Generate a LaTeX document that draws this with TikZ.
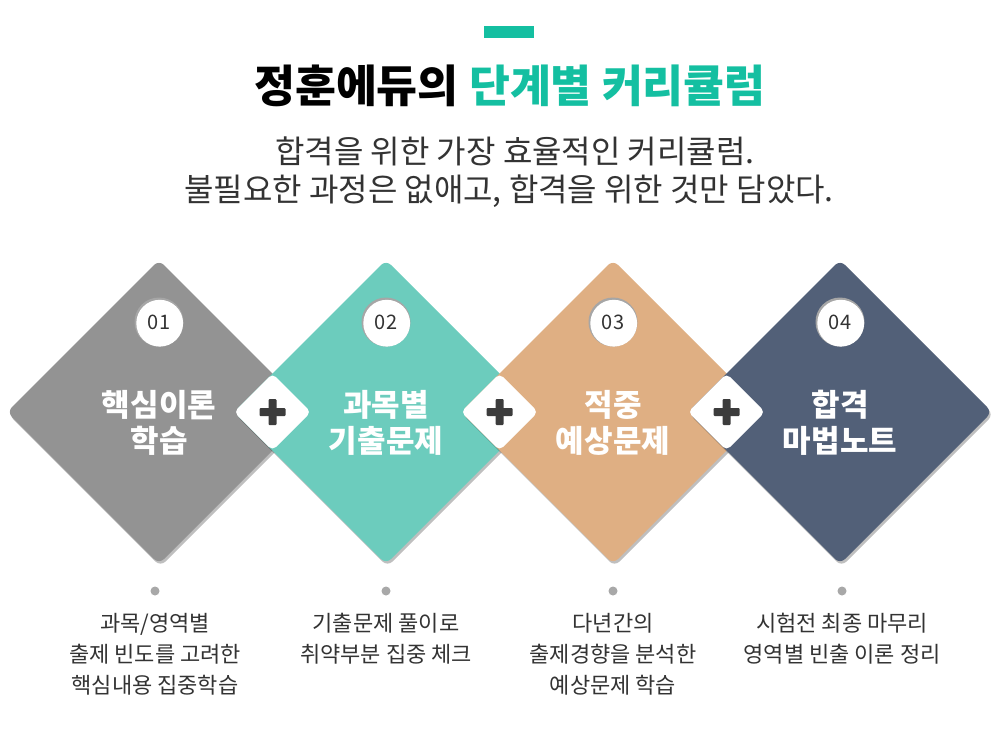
\documentclass[tikz,border=0pt]{standalone}
\usepackage{fontspec}
\setmainfont{Noto Sans CJK KR}
\usetikzlibrary{shadows}
\definecolor{titlegreen}{HTML}{14BFA1}
\definecolor{cgray}{HTML}{939393}
\definecolor{cteal}{HTML}{6CCCBD}
\definecolor{ctan}{HTML}{DFAF83}
\definecolor{cnavy}{HTML}{526078}
\definecolor{txt}{HTML}{333333}
\definecolor{plusc}{HTML}{3C3C3C}
\definecolor{dotc}{HTML}{A8A8A8}
\tikzset{
  diabox/.style={rounded corners=7pt, drop shadow={shadow xshift=1.5pt, shadow yshift=-2.5pt, opacity=0.25, fill=black}},
  gapbox/.style={fill=white, rounded corners=5pt},
  numtext/.style={inner sep=0pt, text=txt, font=\fontsize{20}{20}\selectfont},
  diatitle/.style={inner sep=0pt, text=white, align=center, font=\fontsize{31}{36}\selectfont\bfseries},
  desc/.style={inner sep=0pt, text=txt, align=center, anchor=north, font=\fontsize{22}{31}\selectfont},
  subt/.style={inner sep=0pt, text=txt, font=\fontsize{32}{32}\selectfont},
}
\begin{document}
\begin{tikzpicture}[x=1pt,y=-1pt]
\useasboundingbox (0,0) rectangle (1000,744);
\fill[white] (0,0) rectangle (1000,744);
% top bar
\fill[titlegreen] (484,26) rectangle (534,38);
% title
\node[inner sep=0pt, font=\fontsize{44.5}{44.5}\selectfont\bfseries] (title) at (510,86) {정훈에듀의 \textcolor{titlegreen}{단계별 커리큘럼}};
\node[subt] (sub1) at (515,151) {합격을 위한 가장 효율적인 커리큘럼.};
\node[subt] (sub2) at (509,191) {불필요한 과정은 없애고, 합격을 위한 것만 담았다.};
% diamonds
\foreach \x/\c in {159/cgray, 386/cteal, 613/ctan, 840/cnavy}{
  \path[diabox, fill=\c] (\x-152,412) -- (\x,260) -- (\x+152,412) -- (\x,564) -- cycle;
}
% gaps with plus signs
\foreach \x [count=\i] in {272.5, 499.5, 726.5}{
  \path[gapbox] (\x-38.5,412) -- (\x,373.5) -- (\x+38.5,412) -- (\x,450.5) -- cycle;
  \coordinate (plus\i) at (\x,412);
  \fill[plusc, rounded corners=1pt] (\x-13,408) rectangle (\x+13,416);
  \fill[plusc, rounded corners=1pt] (\x-4,399) rectangle (\x+4,425);
}
% number circles
\foreach \x/\n [count=\i] in {159/01, 386/02, 613/03, 840/04}{
  \fill[black!35] (\x,322) circle (24.5);
  \fill[white] (\x+0.7,323.2) circle (23.4);
  \node[numtext] (num\i) at (\x,322.5) {\n};
}
% diamond titles
\node[diatitle] (t1) at (159,423) {핵심이론\\학습};
\node[diatitle] (t2) at (386,423) {과목별\\기출문제};
\node[diatitle] (t3) at (613,423) {적중\\예상문제};
\node[diatitle] (t4) at (840,423) {합격\\마법노트};
% dots
\foreach \x [count=\i] in {155,386,613,842}{
  \fill[dotc] (\x,591) circle (4.5) coordinate (dot\i);
}
% descriptions
\node[desc] (d1) at (155,613) {과목/영역별\\출제 빈도를 고려한\\핵심내용 집중학습};
\node[desc] (d2) at (386,613) {기출문제 풀이로\\취약부분 집중 체크};
\node[desc] (d3) at (613,613) {다년간의\\출제경향을 분석한\\예상문제 학습};
\node[desc] (d4) at (842,613) {시험전 최종 마무리\\영역별 빈출 이론 정리};
\end{tikzpicture}
\end{document}
